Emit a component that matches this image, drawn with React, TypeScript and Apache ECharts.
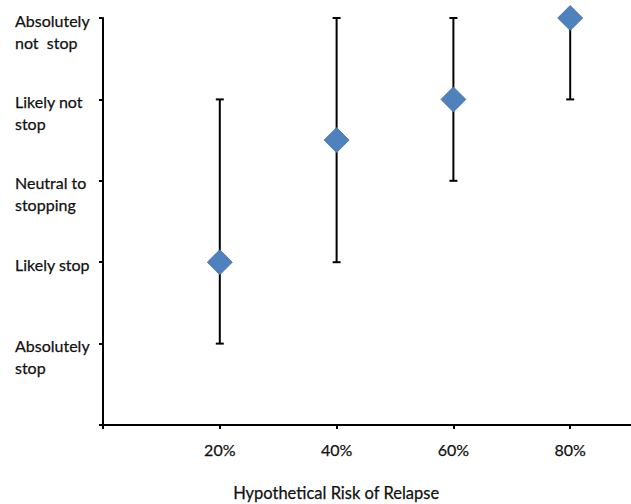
import React, { useEffect, useRef } from "react";
import * as echarts from "echarts";

const riskLevels = [20, 40, 60, 80];
const meanResponse = [2, 3.5, 4, 5];
const lowResponse = [1, 2, 3, 4];
const highResponse = [4, 5, 5, 5];
const yTickLabels = [
  "",
  "Absolutely\nstop",
  "Likely stop",
  "Neutral to\nstopping",
  "Likely not\nstop",
  "Absolutely\nnot  stop",
];
const xAxisTitle = "Hypothetical Risk of Relapse";

const FONT = "Lato, 'Noto Sans', sans-serif";
const TEXT = "#111111";
const BOLDEN = { textBorderColor: TEXT, textBorderWidth: 0.25 };

export default function App() {
  const ref = useRef<HTMLDivElement>(null);
  useEffect(() => {
    if (!ref.current) return;
    const chart = echarts.init(ref.current, null, { renderer: "svg" });
    const scatterData = riskLevels.map((x, i) => [x, meanResponse[i]]);
    const barData = riskLevels.map((x, i) => [x, lowResponse[i], highResponse[i]]);
    chart.setOption({
      animation: false,
      backgroundColor: "#ffffff",
      grid: { left: 103, right: 0, top: 18, bottom: 79, containLabel: false },
      xAxis: {
        type: "value",
        min: 0,
        max: 100,
        interval: 20,
        splitLine: { show: false },
        axisLine: { show: true, lineStyle: { color: "#000", width: 2 } },
        axisTick: { show: true, length: 4, lineStyle: { color: "#000", width: 2 } },
        axisLabel: {
          margin: 16,
          color: TEXT,
          fontFamily: FONT,
          fontSize: 16,
          ...BOLDEN,
          formatter: (v: number) => (v === 0 || v === 100 ? "" : v + "%"),
        },
      },
      yAxis: {
        type: "value",
        min: 0,
        max: 5,
        interval: 1,
        splitLine: { show: false },
        axisLine: { show: true, lineStyle: { color: "#000", width: 2 } },
        axisTick: { show: true, length: 4, lineStyle: { color: "#000", width: 2 } },
        axisLabel: {
          align: "left",
          margin: 88,
          verticalAlign: "top",
          color: TEXT,
          fontFamily: FONT,
          fontSize: 16,
          formatter: (v: number) => {
            const t = yTickLabels[Math.round(v)] || "";
            if (!t) return "";
            return t
              .split("\n")
              .map((l, i) => `{${i === 0 ? "a" : "b"}|${l}}`)
              .join("\n");
          },
          rich: {
            a: { lineHeight: 4, fontFamily: FONT, fontSize: 16, color: TEXT, ...BOLDEN },
            b: { lineHeight: 40, fontFamily: FONT, fontSize: 16, color: TEXT, ...BOLDEN },
          },
        },
      },
      graphic: [
        {
          type: "text",
          left: 233,
          top: 484,
          style: {
            text: xAxisTitle,
            font: `16.5px ${FONT}`,
            fill: TEXT,
            stroke: TEXT,
            lineWidth: 0.25,
          },
        },
      ],
      series: [
        {
          type: "custom",
          z: 1,
          data: barData,
          encode: { x: 0, y: [1, 2] },
          renderItem: (params: any, api: any) => {
            const x = api.value(0);
            const lo = api.value(1);
            const hi = api.value(2);
            const top = api.coord([x, hi]);
            const bot = api.coord([x, lo]);
            const cap = 4;
            const style = { stroke: "#000", lineWidth: 2 };
            return {
              type: "group",
              children: [
                { type: "line", shape: { x1: top[0], y1: top[1], x2: bot[0], y2: bot[1] }, style },
                { type: "line", shape: { x1: top[0] - cap, y1: top[1], x2: top[0] + cap, y2: top[1] }, style },
                { type: "line", shape: { x1: bot[0] - cap, y1: bot[1], x2: bot[0] + cap, y2: bot[1] }, style },
              ],
            };
          },
        },
        {
          type: "scatter",
          z: 3,
          clip: false,
          symbol: "diamond",
          symbolSize: 25,
          itemStyle: { color: "#4F81BD", borderColor: "#3F6FA8", borderWidth: 0.8, opacity: 1 },
          data: scatterData,
        },
      ],
    });
    return () => chart.dispose();
  }, []);
  return (
    <div
      ref={ref}
      style={{ position: "fixed", left: 0, top: 0, width: 690, height: 504 }}
    />
  );
}
